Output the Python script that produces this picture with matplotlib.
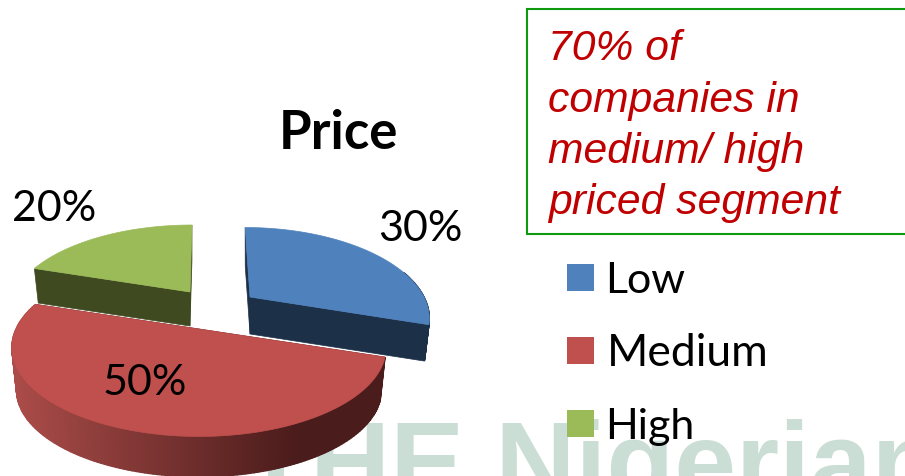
import numpy as np
import matplotlib
matplotlib.use("Agg")
import matplotlib.pyplot as plt
from matplotlib.patches import Polygon, Rectangle
from matplotlib.colors import to_rgb

# Survey shares by price segment
categories = ["Low", "Medium", "High"]
shares = [30, 50, 20]
top_colors = ["#4f81bd", "#c0504d", "#9bbb59"]
cut_colors = ["#1c3048", "#4a1c1b", "#3f4a20"]
title = "Price"
callout_lines = ["70% of", "companies in", "medium/ high", "priced segment"]
watermark = "THE Nigerian"

# Screen placement of each exploded slice: tip x, tip y, half width, half height, lean
slice_frames = [(250, 298, 174, 84, 0.07), (199, 330, 183, 85, 0.0), (190, 293, 175, 81, -0.03)]
slice_depths = [37, 43, 34]
TILT = 0.209
LABEL_XY = [(420, 229), (145, 383), (54, 209)]

fig = plt.figure(figsize=(9.05, 4.77), dpi=100)
ax = fig.add_axes([0, 0, 1, 1])
ax.set_xlim(0, 905)
ax.set_ylim(477, 0)
ax.axis("off")


def project(theta, frame, drop=0.0, shrink=1.0):
    """Map clockwise-from-top angles on the pie disc to tilted screen positions."""
    cx, cy, a, b, lean = frame
    u = np.sin(theta)
    v = -np.cos(theta)
    w = 1 - TILT * v
    dy = shrink * b * v / w
    return cx + shrink * a * u / w + lean * dy, cy + dy + drop


def mix(c1, c2, t):
    c1, c2 = np.array(to_rgb(c1)), np.array(to_rgb(c2))
    return tuple(c1 + (c2 - c1) * t)


# Faint site name sitting behind the chart
ax.text(242, 500, watermark, fontsize=80, fontweight="bold", family="Liberation Sans",
        color="#cbded6", ha="left", va="baseline", zorder=0, clip_on=True)

fracs = np.array(shares) / sum(shares)
starts = np.concatenate([[0], np.cumsum(fracs)[:-1]]) * 2 * np.pi
ends = np.cumsum(fracs) * 2 * np.pi

# Back slices first so the front one overlaps them
for i in [2, 0, 1]:
    frame = slice_frames[i]
    depth = slice_depths[i]
    t = np.linspace(starts[i], ends[i], 160)
    z = 2 + (i == 1)
    tip = (frame[0], frame[1])

    # radial cut faces
    for edge in (starts[i], ends[i]):
        ex, ey = project(np.array([edge]), frame)
        ex2, ey2 = project(np.array([edge]), frame, drop=depth, shrink=0.975)
        ax.add_patch(Polygon([tip, (ex[0], ey[0]), (ex2[0], ey2[0]),
                              (tip[0], tip[1] + depth)],
                             closed=True, fc=cut_colors[i], ec=cut_colors[i], lw=0.5, zorder=z))

    # outer rim, shaded band by band from light on the left to dark on the right
    x0, y0 = project(t, frame)
    x1, y1 = project(t, frame, drop=depth, shrink=0.975)
    for j in range(len(t) - 1):
        if np.cos((t[j] + t[j + 1]) / 2) > 0.31:
            continue
        pos = np.clip(((x0[j] + x0[j + 1]) / 2 - 12) / 285, 0, 1)
        col = mix("#ab4c49", cut_colors[i], pos) if i == 1 else cut_colors[i]
        ax.add_patch(Polygon([(x0[j], y0[j]), (x0[j + 1], y0[j + 1]),
                              (x1[j + 1], y1[j + 1]), (x1[j], y1[j])],
                             closed=True, fc=col, ec=col, lw=1.0, zorder=z))

    # top face
    verts = [tip] + list(zip(x0, y0))
    ax.add_patch(Polygon(verts, closed=True, fc=top_colors[i], ec=top_colors[i],
                         lw=0.5, zorder=z + 0.5))

# Value labels
for (lx, ly), s in zip(LABEL_XY, shares):
    ax.text(lx, ly, f"{s}%", fontsize=31, family="Lato", color="black",
            ha="center", va="center", zorder=6)

ax.text(338, 134, title, fontsize=38, fontweight="bold", family="Lato",
        ha="center", va="center", zorder=6)

# Legend
for y, name, col, tx, fs in zip([279, 352, 425], categories, top_colors,
                                [605, 607, 605], [31, 32, 31]):
    ax.add_patch(Rectangle((567, y - 14), 27, 27, fc=col, ec="none", zorder=6))
    ax.text(tx, y + 2, name, fontsize=fs, family="Lato", ha="left", va="center", zorder=6)

# Callout box, running off the right edge of the figure
ax.add_patch(Rectangle((527, 9.5), 400, 225.5, fc="white", ec="#0e9a0e", lw=1.5, zorder=5))
for y, line in zip([60, 112, 163, 214], callout_lines):
    ax.text(548, y, line, fontsize=30.7, style="italic", family="Liberation Sans",
            color="#c00000", ha="left", va="baseline", zorder=6)

fig.savefig("out.png", dpi=100)
